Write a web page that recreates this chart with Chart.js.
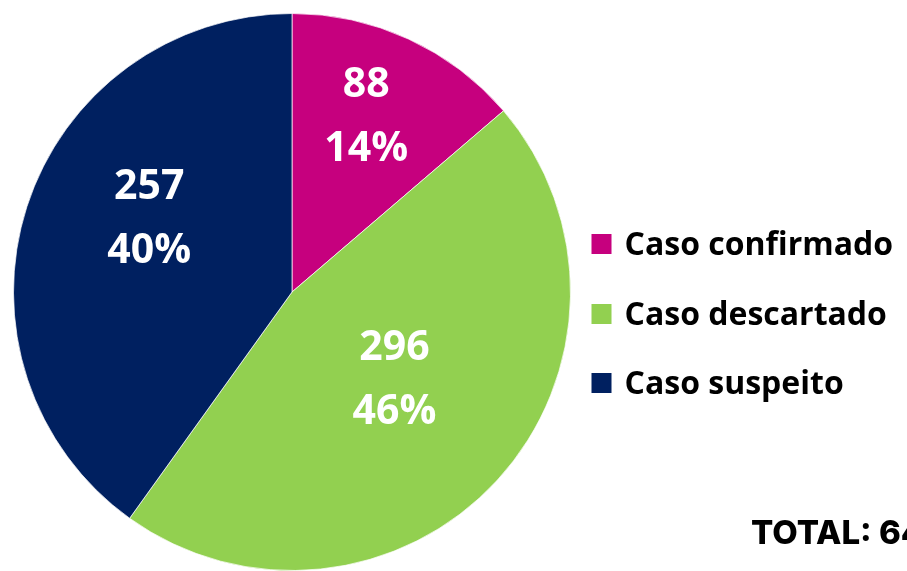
<!DOCTYPE html>
<html lang="pt">
<head>
<meta charset="utf-8">
<title>Casos</title>
<script src="https://cdn.jsdelivr.net/npm/chart.js@4"></script>
<style>
  html, body { margin: 0; padding: 0; background: #fff; }
  #wrap { width: 907px; height: 571px; position: relative; }
</style>
</head>
<body>
<div id="wrap"><canvas id="pie" width="907" height="571"></canvas></div>
<script>
// Data
const categories = ['Caso confirmado', 'Caso descartado', 'Caso suspeito'];
const caseCounts = [88, 296, 257];
const percentLabels = ['14%', '46%', '40%'];
const sliceColors = ['#C6007E', '#92D050', '#002060'];
const totalText = 'TOTAL: 641';

// Where each value label sits inside its slice: [radius fraction, angle shift in degrees]
const labelPlacement = [[0.69, -2], [0.48, -2.6], [0.58, 10]];

/**
 * Draw the white number / percent labels inside each slice
 */
const sliceLabels = {
  id: 'sliceLabels',
  afterDatasetsDraw(chart) {
    const ctx = chart.ctx;
    const meta = chart.getDatasetMeta(0);
    const size = 41;
    ctx.save();
    ctx.fillStyle = '#fff';
    ctx.font = `bold ${size}px "Open Sans"`;
    ctx.textAlign = 'center';
    ctx.textBaseline = 'alphabetic';
    meta.data.forEach((arc, i) => {
      const p = arc.getProps(['x', 'y', 'startAngle', 'endAngle', 'outerRadius'], true);
      const place = labelPlacement[i];
      const mid = (p.startAngle + p.endAngle) / 2 + place[1] * Math.PI / 180;
      const r = p.outerRadius * place[0];
      const cx = p.x + Math.cos(mid) * r;
      const cy = p.y + Math.sin(mid) * r;
      const half = 32;
      const cap = size * 0.357;
      ctx.fillText(String(caseCounts[i]), cx, cy - half + cap);
      ctx.fillText(percentLabels[i], cx, cy + half + cap);
    });
    ctx.restore();
  }
};

/**
 * Legend to the right of the pie and the total in the corner
 */
const sideLegend = {
  id: 'sideLegend',
  afterDraw(chart) {
    const ctx = chart.ctx;
    const meta = chart.getDatasetMeta(0);
    const arc = meta.data[0].getProps(['x', 'y', 'outerRadius'], true);
    const left = arc.x + arc.outerRadius + 21;
    const rowCenters = [arc.y - 48, arc.y + 22, arc.y + 91];
    const box = 20;
    ctx.save();
    ctx.font = 'bold 32px "Open Sans"';
    ctx.textAlign = 'left';
    ctx.textBaseline = 'alphabetic';
    categories.forEach((name, i) => {
      const cy = rowCenters[i];
      ctx.fillStyle = sliceColors[i];
      ctx.fillRect(left, cy - box / 2, box, box);
      ctx.fillStyle = '#000';
      ctx.fillText(name, left + 33, cy + 11);
    });
    ctx.font = '800 33px Inter';
    ctx.fillText(totalText, 751, 544);
    ctx.restore();
  }
};

const pieChart = new Chart(document.getElementById('pie').getContext('2d'), {
  type: 'pie',
  data: {
    labels: categories,
    datasets: [{
      data: caseCounts,
      backgroundColor: sliceColors,
      borderColor: 'rgba(255,255,255,0.7)',
      borderWidth: 1
    }]
  },
  options: {
    responsive: false,
    devicePixelRatio: 1,
    animation: false,
    layout: {
      padding: { left: 12, top: 13, right: 335, bottom: 0 }
    },
    plugins: {
      legend: { display: false },
      tooltip: { enabled: false }
    }
  },
  plugins: [sliceLabels, sideLegend]
});
</script>
</body>
</html>
